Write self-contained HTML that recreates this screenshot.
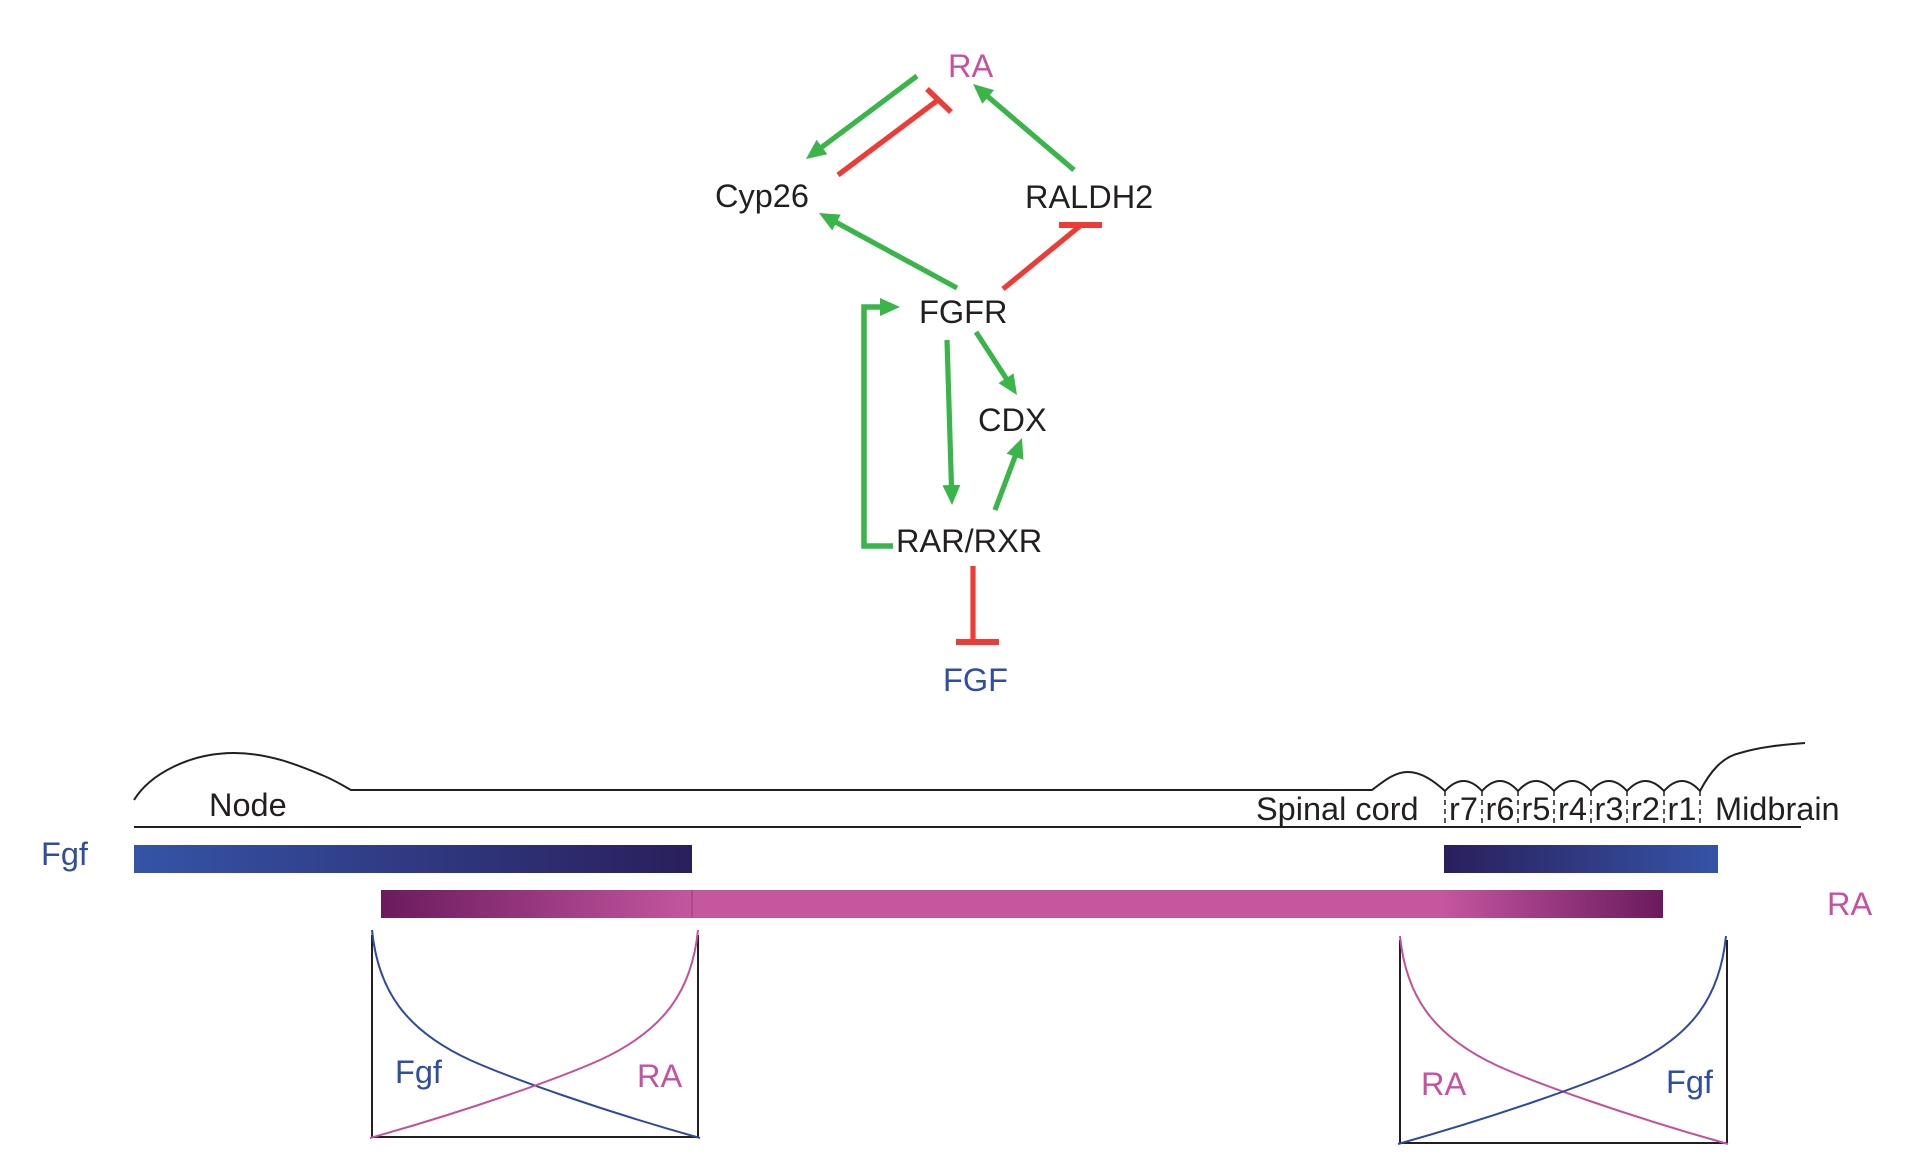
<!DOCTYPE html>
<html>
<head>
<meta charset="utf-8">
<style>
html,body{margin:0;padding:0;background:#fff;}
svg{display:block;}
text{font-family:"Liberation Sans",Arial,sans-serif;font-size:32.5px;}
</style>
</head>
<body>
<svg width="1912" height="1166" viewBox="0 0 1912 1166" xmlns="http://www.w3.org/2000/svg">
<defs>
<marker id="g" markerUnits="userSpaceOnUse" markerWidth="22" markerHeight="22" refX="12" refY="10" orient="auto">
<path d="M0,1 L20,10 L0,19 Z" fill="#39b54a"/>
</marker>
<linearGradient id="fgfL" x1="0" x2="1" y1="0" y2="0">
<stop offset="0" stop-color="#3554a7"/>
<stop offset="1" stop-color="#2a1f5c"/>
</linearGradient>
<linearGradient id="fgfR" x1="0" x2="1" y1="0" y2="0">
<stop offset="0" stop-color="#2a1f5c"/>
<stop offset="1" stop-color="#3554a7"/>
</linearGradient>
<linearGradient id="raL" x1="0" x2="1" y1="0" y2="0">
<stop offset="0" stop-color="#6b1a5e"/>
<stop offset="1" stop-color="#c4569f"/>
</linearGradient>
<linearGradient id="raR" x1="0" x2="1" y1="0" y2="0">
<stop offset="0" stop-color="#c4569f"/>
<stop offset="1" stop-color="#6b1a5e"/>
</linearGradient>
</defs>

<!-- Network labels -->
<text x="948" y="77" fill="#c6529f">RA</text>
<text x="715" y="207" fill="#231f20">Cyp26</text>
<text x="1025" y="208" fill="#231f20">RALDH2</text>
<text x="919" y="323" fill="#231f20">FGFR</text>
<text x="978" y="431" fill="#231f20">CDX</text>
<text x="896" y="552" fill="#231f20">RAR/RXR</text>
<text x="943" y="691" fill="#2f4e9f">FGF</text>

<!-- Green activation arrows -->
<g stroke="#39b54a" stroke-width="5.2" fill="none">
<line x1="917" y1="76" x2="812.4" y2="154.2" marker-end="url(#g)"/>
<line x1="1074" y1="170" x2="979.1" y2="89.2" marker-end="url(#g)"/>
<line x1="957" y1="288" x2="826" y2="216.8" marker-end="url(#g)"/>
<line x1="947" y1="340" x2="951.8" y2="497" marker-end="url(#g)"/>
<line x1="976" y1="332" x2="1012.6" y2="388.3" marker-end="url(#g)"/>
<line x1="995" y1="510" x2="1019.2" y2="445.5" marker-end="url(#g)"/>
<polyline points="893,546 864,546 864,307 892,307" stroke-width="5.5" marker-end="url(#g)"/>
</g>

<!-- Red inhibition -->
<g stroke="#ee3b35" stroke-width="5.2" fill="none">
<line x1="838" y1="175" x2="938" y2="100"/>
<line x1="927" y1="89" x2="951" y2="112" stroke-width="5.5"/>
<line x1="1003" y1="289" x2="1080" y2="226"/>
<line x1="1059" y1="225" x2="1102" y2="225" stroke-width="6"/>
<line x1="973" y1="566" x2="973" y2="642"/>
<line x1="956" y1="642" x2="999" y2="642" stroke-width="6"/>
</g>

<!-- Embryo outline -->
<g stroke="#231f20" fill="none" stroke-width="2">
<path d="M134,800 C150,774 190,753 234,753 C270,753 300,766 322,775 C336,781 344,786 351,790 L1372,790
 C1385,780 1395,772 1408,772 C1422,772 1435,782 1445,791
 Q1463.5,771 1482,791 Q1500,771 1518,791 Q1536,771 1554,791 Q1572.5,771 1591,791 Q1609,771 1627,791 Q1645.5,771 1664,791 Q1682,771 1700,791
 C1710,772 1722,757 1740,753 C1760,747 1780,745 1805,743"/>
<line x1="134" y1="827" x2="1801" y2="827"/>
</g>
<g stroke="#231f20" stroke-width="1.5" stroke-dasharray="5,4" fill="none">
<line x1="1445" y1="791" x2="1445" y2="827"/>
<line x1="1482" y1="791" x2="1482" y2="827"/>
<line x1="1518" y1="791" x2="1518" y2="827"/>
<line x1="1554" y1="791" x2="1554" y2="827"/>
<line x1="1591" y1="791" x2="1591" y2="827"/>
<line x1="1627" y1="791" x2="1627" y2="827"/>
<line x1="1664" y1="791" x2="1664" y2="827"/>
<line x1="1700" y1="791" x2="1700" y2="827"/>
</g>

<text x="209" y="816" fill="#231f20">Node</text>
<text x="1256" y="820" fill="#231f20">Spinal cord</text>
<g fill="#231f20" text-anchor="middle">
<text x="1463.5" y="820">r7</text>
<text x="1500" y="820">r6</text>
<text x="1536" y="820">r5</text>
<text x="1572.5" y="820">r4</text>
<text x="1609" y="820">r3</text>
<text x="1645.5" y="820">r2</text>
<text x="1682" y="820">r1</text>
</g>
<text x="1715" y="820" fill="#231f20">Midbrain</text>

<!-- Bars -->
<text x="41" y="865" fill="#2f4e9f">Fgf</text>
<rect x="134" y="845" width="558" height="28" fill="url(#fgfL)"/>
<rect x="1444" y="845" width="274" height="28" fill="url(#fgfR)"/>
<rect x="381" y="890" width="311" height="28" fill="url(#raL)"/>
<rect x="692" y="890" width="752" height="28" fill="#c5579f"/>
<line x1="692" y1="890" x2="692" y2="918" stroke="#9c3a80" stroke-width="1"/>
<rect x="1444" y="890" width="219" height="28" fill="url(#raR)"/>
<text x="1827" y="915" fill="#c6529f">RA</text>

<!-- Left gradient box -->
<path d="M372,935 L372,1137 L698,1137 L698,935" stroke="#231f20" stroke-width="2" fill="none"/>
<path d="M372,930 C378,990 405,1030 470,1060 C510,1078 600,1110 700,1138" stroke="#2e4a9e" stroke-width="2" fill="none"/>
<path d="M698,930 C692,990 665,1030 600,1060 C560,1078 470,1110 370,1138" stroke="#c4509c" stroke-width="2" fill="none"/>
<text x="395" y="1083" fill="#2f4e9f">Fgf</text>
<text x="637" y="1087" fill="#c6529f">RA</text>

<!-- Right gradient box -->
<path d="M1400,940 L1400,1143 L1727,1143 L1727,940" stroke="#231f20" stroke-width="2" fill="none"/>
<path d="M1400,936 C1406,996 1433,1036 1498,1066 C1538,1084 1628,1116 1728,1144" stroke="#c4509c" stroke-width="2" fill="none"/>
<path d="M1726,936 C1720,996 1693,1036 1628,1066 C1588,1084 1498,1116 1398,1144" stroke="#2e4a9e" stroke-width="2" fill="none"/>
<text x="1421" y="1095" fill="#c6529f">RA</text>
<text x="1666" y="1093" fill="#2f4e9f">Fgf</text>
</svg>
</body>
</html>
